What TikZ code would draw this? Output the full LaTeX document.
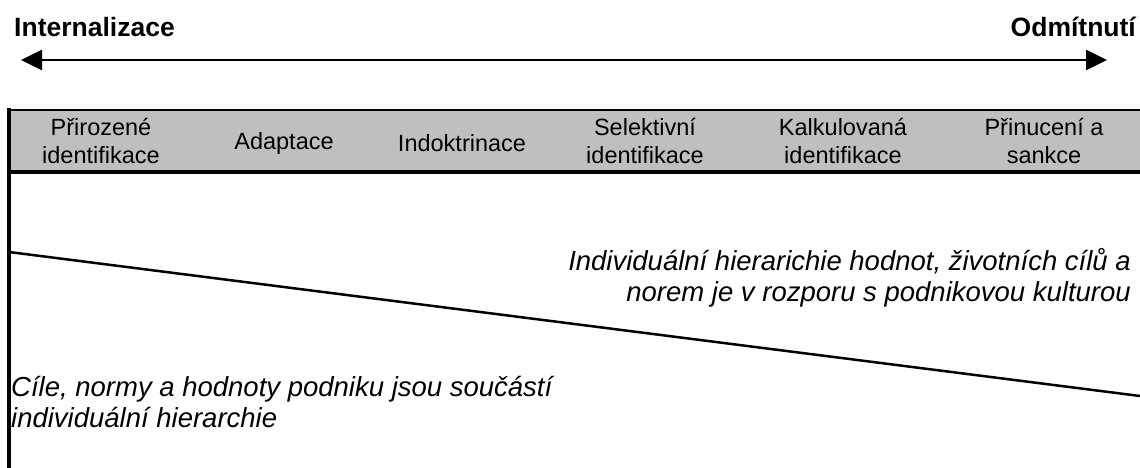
\documentclass[tikz,border=0pt]{standalone}
\usepackage{fontspec}
\setmainfont{Liberation Sans}
\usetikzlibrary{arrows.meta}
\tikzset{
  phase/.style={font=\fontsize{23.5}{28}\selectfont, align=center, inner sep=0pt},
  heading/.style={font=\fontsize{26.5}{30}\selectfont\bfseries, inner sep=0pt},
  remark/.style={font=\fontsize{27.5}{31}\selectfont\itshape, inner sep=0pt},
  scaletip/.tip={Triangle[length=21pt,width=20pt]},
}

\begin{document}
\begin{tikzpicture}[x=1pt,y=-1pt]
  \useasboundingbox (0,0) rectangle (1140,468);

  % Headings and scale arrow
  \node[heading, anchor=west] (intern) at (14,27) {Internalizace};
  \node[heading, anchor=east] (odmit) at (1136,27) {Odmítnutí};
  \coordinate (arrL) at (21,60);
  \coordinate (arrR) at (1107,60);
  \draw[line width=2.5pt, scaletip-scaletip] (arrL) -- (arrR);

  % Band of phases
  \fill[black!25] (9,110) rectangle (1140,172);
  \draw[line width=2pt] (9,110) -- (1140,110);
  \draw[line width=4pt] (9,172) -- (1140,172);
  \draw[line width=4pt] (9,108) -- (9,468);

  \node[phase] (prir) at (101,141) {Přirozené\\identifikace};
  \node[phase] (adapt) at (284,143) {Adaptace};
  \node[phase] (indok) at (462,143) {Indoktrinace};
  \node[phase] (selek) at (645,141) {Selektivní\\identifikace};
  \node[phase] (kalk) at (843,141) {Kalkulovaná\\identifikace};
  \node[phase] (prin) at (1044,141) {Přinucení a\\sankce};

  % Dividing line
  \coordinate (divL) at (9,252);
  \coordinate (divR) at (1140,396);
  \draw[line width=2.5pt] (divL) -- (divR);

  % Remarks
  \node[remark, anchor=east, align=right] (rozpor) at (1131,278)
    {Individuální hierarichie hodnot, životních cílů a\\norem je v rozporu s podnikovou kulturou};
  \node[remark, anchor=west, align=left] (soucast) at (11,402)
    {Cíle, normy a hodnoty podniku jsou součástí\\individuální hierarchie};
\end{tikzpicture}
\end{document}
